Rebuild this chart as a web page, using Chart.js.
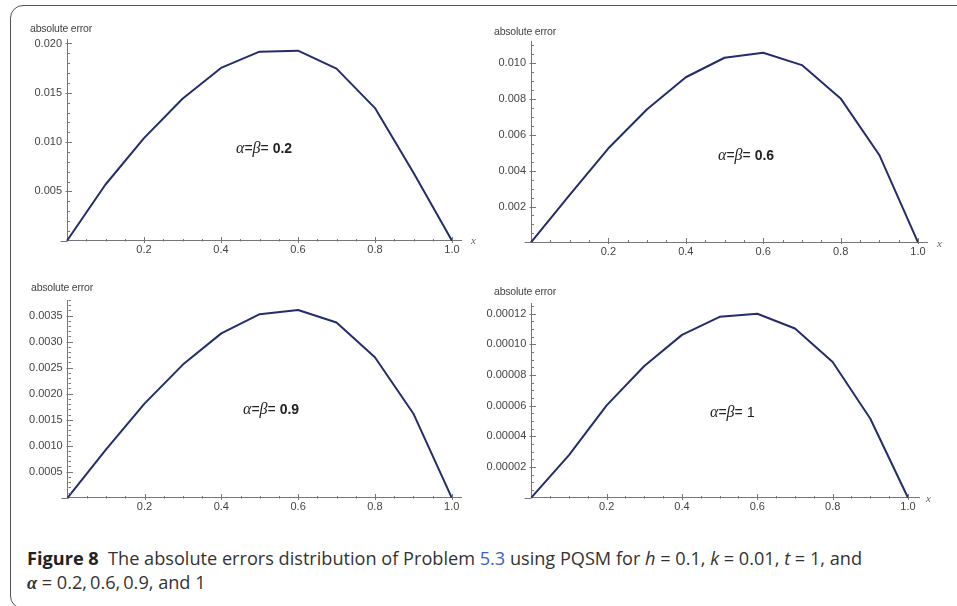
<!DOCTYPE html>
<html>
<head>
<meta charset="utf-8">
<script src="https://cdn.jsdelivr.net/npm/chart.js@4.4.1/dist/chart.umd.min.js"></script>
<style>
  html, body { margin: 0; padding: 0; background: #fff; }
  #wrap { position: relative; width: 957px; height: 606px; overflow: hidden; background: #fff; }
  #frame { position: absolute; left: 10px; top: 5px; width: 1000px; height: 604px;
           border: 1.5px solid #555; border-radius: 13px; box-sizing: border-box; }
  canvas { position: absolute; }
  .yl { position: absolute; font-family: "Liberation Sans", Arial, sans-serif; font-size: 10.5px; letter-spacing: -0.2px; color: #444; white-space: nowrap; line-height: 1; }
  .xl { position: absolute; font-family: "Liberation Serif", serif; font-style: italic; font-size: 11px; color: #666; line-height: 1; }
  .ann { position: absolute; white-space: nowrap; line-height: 1; color: #222; transform: translateY(-50%); }
  .ann .g { font-family: "Liberation Serif", serif; font-style: italic; font-size: 16px; }
  .ann .e { font-family: "Liberation Sans", Arial, sans-serif; font-size: 14px; }
  .ann .n { font-family: "Liberation Sans", Arial, sans-serif; font-size: 14px; font-weight: bold; }
  .ann .n1 { font-family: "Liberation Sans", Arial, sans-serif; font-size: 14.5px; }
  #cap { position: absolute; left: 27px; top: 546px; font-family: "Liberation Sans Narrow", "Open Sans", sans-serif;
         font-size: 18px; color: #333; line-height: 24px; white-space: nowrap; transform-origin: 0 0; }
  #cap b { color: #222; }
  #cap .lnk { color: #3a62c8; }
  #cap .al { font-family: "Liberation Serif", serif; font-style: italic; font-weight: bold; }
</style>
</head>
<body>
<div id="wrap">
  <div id="frame"></div>
  <canvas id="c1" width="478" height="270" style="left:0px;top:0px"></canvas>
  <canvas id="c2" width="479" height="270" style="left:478px;top:0px"></canvas>
  <canvas id="c3" width="478" height="250" style="left:0px;top:270px"></canvas>
  <canvas id="c4" width="479" height="250" style="left:478px;top:270px"></canvas>

  <div class="yl" style="left:30px;top:23px">absolute error</div>
  <div class="yl" style="left:494px;top:25.5px">absolute error</div>
  <div class="yl" style="left:31px;top:282px">absolute error</div>
  <div class="yl" style="left:494px;top:286px">absolute error</div>

  <div class="xl" style="left:471px;top:235px">x</div>
  <div class="xl" style="left:937px;top:238px">x</div>
  <div class="xl" style="left:926px;top:493px">x</div>

  <div class="ann" style="left:236px;top:148px"><span class="g">α</span><span class="e">=</span><span class="g">β</span><span class="e">= </span><span class="n">0.2</span></div>
  <div class="ann" style="left:718px;top:154.5px"><span class="g">α</span><span class="e">=</span><span class="g">β</span><span class="e">= </span><span class="n">0.6</span></div>
  <div class="ann" style="left:243px;top:408.5px"><span class="g">α</span><span class="e">=</span><span class="g">β</span><span class="e">= </span><span class="n">0.9</span></div>
  <div class="ann" style="left:710px;top:412px"><span class="g">α</span><span class="e">=</span><span class="g">β</span><span class="e">= </span><span class="n1">1</span></div>

  <div id="cap"><span id="l1"><b>Figure 8</b>&nbsp; The absolute errors distribution of Problem <span class="lnk">5.3</span> using PQSM for <i>h</i> = 0.1, <i>k</i> = 0.01, <i>t</i> = 1, and</span><br><span class="al">α</span> = 0.2,&thinsp;0.6,&thinsp;0.9, and 1</div>
</div>
<script>
// ---- data ----
const xs = [0, 0.1, 0.2, 0.3, 0.4, 0.5, 0.6, 0.7, 0.8, 0.9, 1.0];
const err02 = [0, 0.0057, 0.0104, 0.0144, 0.01752, 0.01917, 0.01927, 0.01745, 0.01345, 0.0069, 0];
const err06 = [0, 0.00265, 0.00525, 0.00743, 0.00922, 0.01031, 0.01059, 0.0099, 0.00804, 0.00488, 0];
const err09 = [0, 0.00093, 0.00181, 0.00256, 0.00316, 0.00353, 0.00361, 0.00337, 0.0027, 0.00162, 0];
const err10 = [0, 0.0000278, 0.0000602, 0.0000859, 0.0001062, 0.000118, 0.00012, 0.0001104, 0.0000885, 0.0000515, 0];
const xTicks = [0.2, 0.4, 0.6, 0.8, 1.0];
const yTicks02 = [0.005, 0.010, 0.015, 0.020];
const yTicks06 = [0.002, 0.004, 0.006, 0.008, 0.010];
const yTicks09 = [0.0005, 0.0010, 0.0015, 0.0020, 0.0025, 0.0030, 0.0035];
const yTicks10 = [0.00002, 0.00004, 0.00006, 0.00008, 0.00010, 0.00012];

const LINE = '#252c6b';
const AXIS = '#777';
const tickFont = { family: '"Liberation Sans", Arial, sans-serif', size: 11 };

const tickPlugin = {
  id: 'mmaTicks',
  afterDraw(chart, args, o) {
    const { ctx, scales: { x, y } } = chart;
    ctx.save();
    ctx.strokeStyle = AXIS;
    ctx.lineWidth = 1;
    ctx.beginPath();
    const by = Math.round(y.getPixelForValue(0)) + 0.5;
    const lx = Math.round(x.getPixelForValue(0)) + 0.5;
    ctx.moveTo(lx - 7, by); ctx.lineTo(lx, by);
    for (let i = 1; i * 0.05 <= 1.0001; i++) {
      const px = Math.round(x.getPixelForValue(i * 0.05)) + 0.5;
      const major = i % 4 === 0;
      ctx.moveTo(px, by + (major ? 1.5 : 0));
      ctx.lineTo(px, by - (major ? 4.5 : 2.5));
    }
    const step = o.minor, n = o.per;
    for (let i = 1; i * step <= y.max + 1e-12; i++) {
      const py = Math.round(y.getPixelForValue(i * step)) + 0.5;
      const major = i % n === 0;
      ctx.moveTo(lx - (major ? 2 : 0), py);
      ctx.lineTo(lx + (major ? 4.5 : 2.5), py);
    }
    ctx.stroke();
    ctx.restore();
  }
};

function makePanel(id, cfg) {
  const el = document.getElementById(id);
  const W = el.width, H = el.height;
  const plotLeft = cfg.x0;
  const plotRight = cfg.x0 + (cfg.x1 - cfg.x0) * cfg.xMax;
  const plotBottom = cfg.y0;
  const plotTop = cfg.y0 - cfg.perY * cfg.yMax;
  new Chart(el, {
    type: 'line',
    data: {
      datasets: [{
        data: xs.map((v, i) => ({ x: v, y: cfg.values[i] })),
        borderColor: LINE, borderWidth: 2, pointRadius: 0, tension: 0, fill: false, clip: false,
        borderJoinStyle: 'round'
      }]
    },
    options: {
      responsive: false, animation: false, devicePixelRatio: 1,
      events: [],
      layout: { padding: { left: 0, top: plotTop, right: W - plotRight, bottom: 0 } },
      plugins: { legend: { display: false }, tooltip: { enabled: false }, mmaTicks: { minor: cfg.minor, per: cfg.per } },
      scales: {
        x: {
          type: 'linear', min: 0, max: cfg.xMax,
          grid: { display: false, drawTicks: false },
          border: { display: true, color: AXIS, width: 1 },
          afterFit: s => { s.height = H - plotBottom; },
          afterBuildTicks: s => { s.ticks = xTicks.map(v => ({ value: v })); },
          ticks: { callback: v => Number(v).toFixed(1), font: tickFont, color: '#444', padding: 3, maxRotation: 0, autoSkip: false }
        },
        y: {
          type: 'linear', min: 0, max: cfg.yMax,
          grid: { display: false, drawTicks: false },
          border: { display: true, color: AXIS, width: 1 },
          afterFit: s => { s.width = plotLeft; },
          afterBuildTicks: s => { s.ticks = cfg.yTicks.map(v => ({ value: v })); },
          ticks: { callback: v => Number(v).toFixed(cfg.dec), font: tickFont, color: '#444', padding: 5, autoSkip: false }
        }
      }
    },
    plugins: [tickPlugin]
  });
}

makePanel('c1', { values: err02, yTicks: yTicks02, dec: 3, x0: 67, x1: 452, xMax: 1.025, y0: 240.7, perY: 9860, yMax: 0.0204, minor: 0.001, per: 5 });
makePanel('c2', { values: err06, yTicks: yTicks06, dec: 3, x0: 53, x1: 440, xMax: 1.025, y0: 242.3, perY: 17900, yMax: 0.0112, minor: 0.0005, per: 4 });
makePanel('c3', { values: err09, yTicks: yTicks09, dec: 4, x0: 67.7, x1: 451.7, xMax: 1.025, y0: 227.7, perY: 52000, yMax: 0.0038, minor: 0.0001, per: 5 });
makePanel('c4', { values: err10, yTicks: yTicks10, dec: 5, x0: 53.3, x1: 430, xMax: 1.03, y0: 227.7, perY: 1533000, yMax: 0.000127, minor: 0.000005, per: 4 });

const cap = document.getElementById('cap');
const l1 = document.getElementById('l1');
const w = l1.getBoundingClientRect().width;
if (w > 0) cap.style.transform = 'scaleX(' + (835 / w) + ')';
</script>
</body>
</html>
